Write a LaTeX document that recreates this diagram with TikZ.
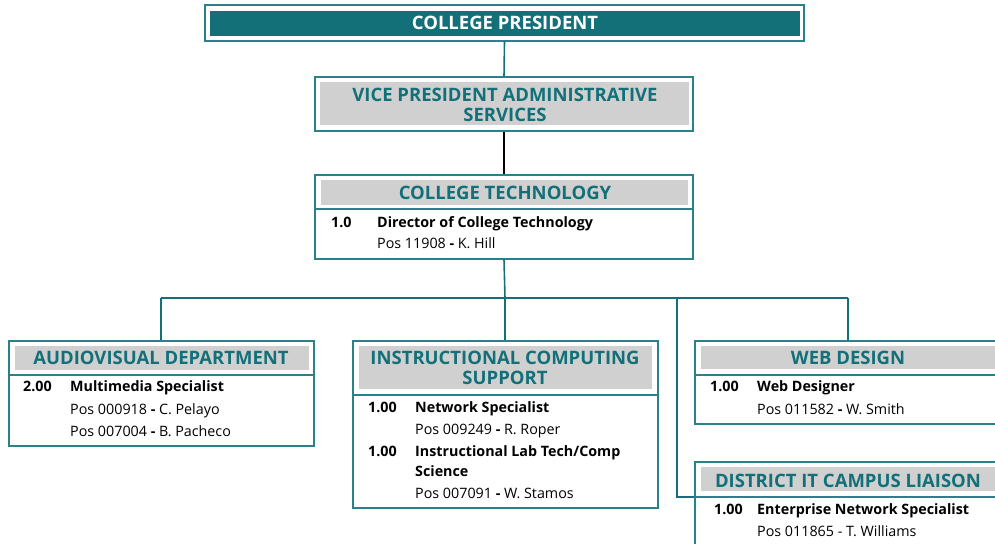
\documentclass[tikz,border=0pt]{standalone}
\usepackage{fontspec}
\setmainfont{Open Sans}
\definecolor{teal1}{HTML}{137079}
\definecolor{tealb}{HTML}{2A8189}
\definecolor{hgray}{HTML}{D0D0D0}
\begin{document}
\begin{tikzpicture}[x=1pt,y=-1pt,
  frame/.style={draw=tealb,line width=1.2pt,fill=white},
  conn/.style={draw=teal1,line width=1.6pt},
  htext/.style={anchor=base,inner sep=0pt,font=\fontsize{18.5}{20}\selectfont\bfseries,text=teal1},
  btext/.style={anchor=base west,inner sep=0pt,font=\fontsize{14.3}{16}\selectfont,text=black},
  bbold/.style={btext,font=\fontsize{14.3}{16}\selectfont\bfseries},
  sep/.style={draw=tealb,line width=1.2pt}]
\useasboundingbox (0,0) rectangle (995,543);
\clip (0,0) rectangle (995,543);
\coordinate (j1) at (505,298);
\coordinate (jl) at (161,298);
\coordinate (jr) at (848,298);
\coordinate (jd) at (677,298);
\coordinate (jde) at (677,497);
% boxes
\node[frame,minimum width=599,minimum height=36,inner sep=0pt] (cp) at (504.5,23) {};
\fill[teal1] (210,11) rectangle (800,36);
\node[htext,text=white] (cpt) at (505,30) {COLLEGE PRESIDENT};

\node[frame,minimum width=378,minimum height=54,inner sep=0pt] (vp) at (504,104) {};
\fill[hgray] (320,82) rectangle (689,125);
\node[htext] (vpt1) at (505,101) {VICE PRESIDENT ADMINISTRATIVE};
\node[htext] (vpt2) at (505,121) {SERVICES};

\node[frame,minimum width=378,minimum height=84,inner sep=0pt] (ct) at (504,217) {};
\fill[hgray] (321,180) rectangle (688,205);
\draw[sep] (315,209) -- (693,209);
\node[htext] (ctt) at (505,199) {COLLEGE TECHNOLOGY};
\node[bbold] (ct1a) at (331,227) {1.0};
\node[bbold] (ct1b) at (377,227) {Director of College Technology};
\node[btext] (ct1c) at (377,248) {Pos 11908 \textbf{-} K. Hill};

\node[frame,minimum width=305,minimum height=105,inner sep=0pt] (av) at (161.5,393.5) {};
\fill[hgray] (15,346) rectangle (309,370);
\draw[sep] (9,375) -- (314,375);
\node[htext] (avt) at (161,364.5) {AUDIOVISUAL DEPARTMENT};
\node[bbold] (av1a) at (23,391.5) {2.00};
\node[bbold] (av1b) at (70,391.5) {Multimedia Specialist};
\node[btext] (av1c) at (70,414) {Pos 000918 \textbf{-} C. Pelayo};
\node[btext] (av1d) at (70,436) {Pos 007004 \textbf{-} B. Pacheco};

\node[frame,minimum width=305,minimum height=167,inner sep=0pt] (ics) at (505.5,424.5) {};
\fill[hgray] (359,346) rectangle (652,389);
\draw[sep] (353,395) -- (658,395);
\node[htext] (icst1) at (505,364) {INSTRUCTIONAL COMPUTING};
\node[htext] (icst2) at (505,384) {SUPPORT};
\node[bbold] (ics1a) at (368,412.5) {1.00};
\node[bbold] (ics1b) at (415,412.5) {Network Specialist};
\node[btext] (ics1c) at (415,434.5) {Pos 009249 \textbf{-} R. Roper};
\node[bbold] (ics2a) at (368,456.5) {1.00};
\node[bbold] (ics2b) at (415,456.5) {Instructional Lab Tech/Comp};
\node[bbold] (ics2c) at (415,476.5) {Science};
\node[btext] (ics2d) at (415,498.5) {Pos 007091 \textbf{-} W. Stamos};

\node[frame,minimum width=310,minimum height=83,inner sep=0pt] (wd) at (850,382.5) {};
\fill[hgray] (701,346) rectangle (1000,369);
\draw[sep] (695,375) -- (1005,375);
\node[htext] (wdt) at (848,364.5) {WEB DESIGN};
\node[bbold] (wd1a) at (710,391.5) {1.00};
\node[bbold] (wd1b) at (757,391.5) {Web Designer};
\node[btext] (wd1c) at (757,414) {Pos 011582 \textbf{-} W. Smith};

\node[frame,minimum width=310,minimum height=100,inner sep=0pt] (dl) at (850,512) {};
\fill[hgray] (701,467) rectangle (1000,491);
\draw[sep] (695,497) -- (1005,497);
\node[htext] (dlt) at (848,487) {DISTRICT IT CAMPUS LIAISON};
\node[bbold] (dl1a) at (714,514.5) {1.00};
\node[bbold] (dl1b) at (757,514.5) {Enterprise Network Specialist};
\node[btext] (dl1c) at (757,536.5) {Pos 011865 - T. Williams};

% connectors
\draw[conn] (cp.south) -- (vp.north);
\draw[black,line width=1.6pt] (vp.south) -- (ct.north);
\draw[conn] (ct.south) -- (j1);
\draw[conn] (jl) -- (jr);
\draw[conn] (jl) -- (jl |- av.north);
\draw[conn] (j1) -- (j1 |- ics.north);
\draw[conn] (jr) -- (jr |- wd.north);
\draw[conn] (jd) -- (jde) -- (jde -| dl.west);
\end{tikzpicture}
\end{document}
